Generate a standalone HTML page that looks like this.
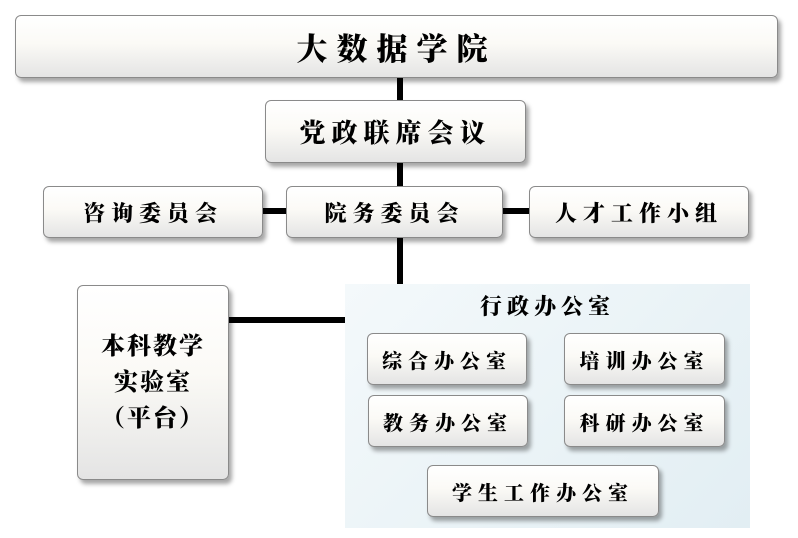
<!DOCTYPE html>
<html><head><meta charset="utf-8"><style>
body{margin:0;width:798px;height:538px;background:#fff;position:relative;overflow:hidden;font-family:"Liberation Serif","Noto Serif CJK SC",serif;}
.b{position:absolute;box-sizing:border-box;border:1px solid #8a8a8a;border-radius:6px;background:linear-gradient(#fff 0%,#fbfaf6 45%,#e4e4e4 100%);box-shadow:3px 4px 4px rgba(0,0,0,.35);display:flex;align-items:center;justify-content:center;font-weight:900;color:#000;letter-spacing:6px;}
.l{position:absolute;background:#000;}
.p{position:absolute;left:345px;top:284px;width:405px;height:244px;background:linear-gradient(135deg,#f4f9fb,#e2eef3);}
</style></head><body>
<div class="l" style="left:397px;top:78px;width:6px;height:207px"></div>
<div class="l" style="left:262px;top:208px;width:270px;height:6px"></div>
<div class="l" style="left:229px;top:317px;width:118px;height:6px"></div>
<div class="p"></div>
<div class="b" style="left:15px;top:15px;width:763px;height:63px;font-size:31px;letter-spacing:9px">大数据学院</div>
<div class="b" style="left:265px;top:100px;width:261px;height:63px;font-size:26px">党政联席会议</div>
<div class="b" style="left:43px;top:186px;width:220px;height:52px;font-size:22px">咨询委员会</div>
<div class="b" style="left:286px;top:186px;width:217px;height:52px;font-size:22px">院务委员会</div>
<div class="b" style="left:529px;top:186px;width:220px;height:52px;font-size:22px">人才工作小组</div>
<div class="b" style="left:77px;top:285px;width:152px;height:195px;font-size:24px;line-height:36px;text-align:center;letter-spacing:2px">本科教学<br>实验室<br>（平台）</div>
<div style="position:absolute;left:345px;top:290px;width:405px;text-align:center;font-weight:900;font-size:22px;letter-spacing:5px">行政办公室</div>
<div class="b" style="left:367px;top:333px;width:160px;height:52px;font-size:20px">综合办公室</div>
<div class="b" style="left:564px;top:333px;width:161px;height:52px;font-size:20px">培训办公室</div>
<div class="b" style="left:368px;top:395px;width:160px;height:52px;font-size:20px">教务办公室</div>
<div class="b" style="left:564px;top:395px;width:161px;height:52px;font-size:20px">科研办公室</div>
<div class="b" style="left:427px;top:465px;width:232px;height:52px;font-size:20px">学生工作办公室</div>
</body></html>
